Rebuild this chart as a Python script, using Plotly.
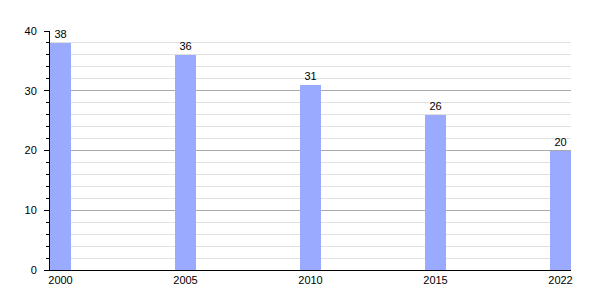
import plotly.graph_objects as go

years = ["2000", "2005", "2010", "2015", "2022"]
values = [38, 36, 31, 26, 20]
y_ticks = [0, 10, 20, 30, 40]

bar_w = 0.168
pos = list(range(len(years)))

fig = go.Figure(go.Bar(
    x=pos, y=values, width=bar_w,
    marker=dict(color="#99aaff", line=dict(width=0)),
    text=[str(v) for v in values], textposition="outside",
    textfont=dict(size=11, color="#000000", family="Liberation Sans, Arial, sans-serif"),
    cliponaxis=False,
))

fig.update_layout(
    width=600, height=300,
    margin=dict(l=50, r=29, t=31, b=30),
    plot_bgcolor="white", paper_bgcolor="white",
    showlegend=False,
    font=dict(family="Liberation Sans, Arial, sans-serif", size=11, color="#000000"),
    bargap=0,
)
fig.update_xaxes(
    range=[-bar_w / 2, len(years) - 1 + bar_w / 2],
    tickmode="array", tickvals=pos, ticktext=years,
    showgrid=False, zeroline=False,
    showline=True, linecolor="#000000", linewidth=1,
    ticks="", ticklen=0, tickfont=dict(size=11),
)
fig.update_yaxes(
    range=[0, 40],
    tickmode="array", tickvals=y_ticks,
    showgrid=True, gridcolor="#aaaaaa", gridwidth=1,
    zeroline=False,
    showline=True, linecolor="#000000", linewidth=1,
    ticks="outside", ticklen=5, tickcolor="#000000", tickfont=dict(size=11),
    ticklabelstandoff=5,
    minor=dict(dtick=2, showgrid=True, gridcolor="#e0e0e0", gridwidth=1,
               ticks="outside", ticklen=3, tickcolor="#000000"),
)

fig.write_html("out.html")
